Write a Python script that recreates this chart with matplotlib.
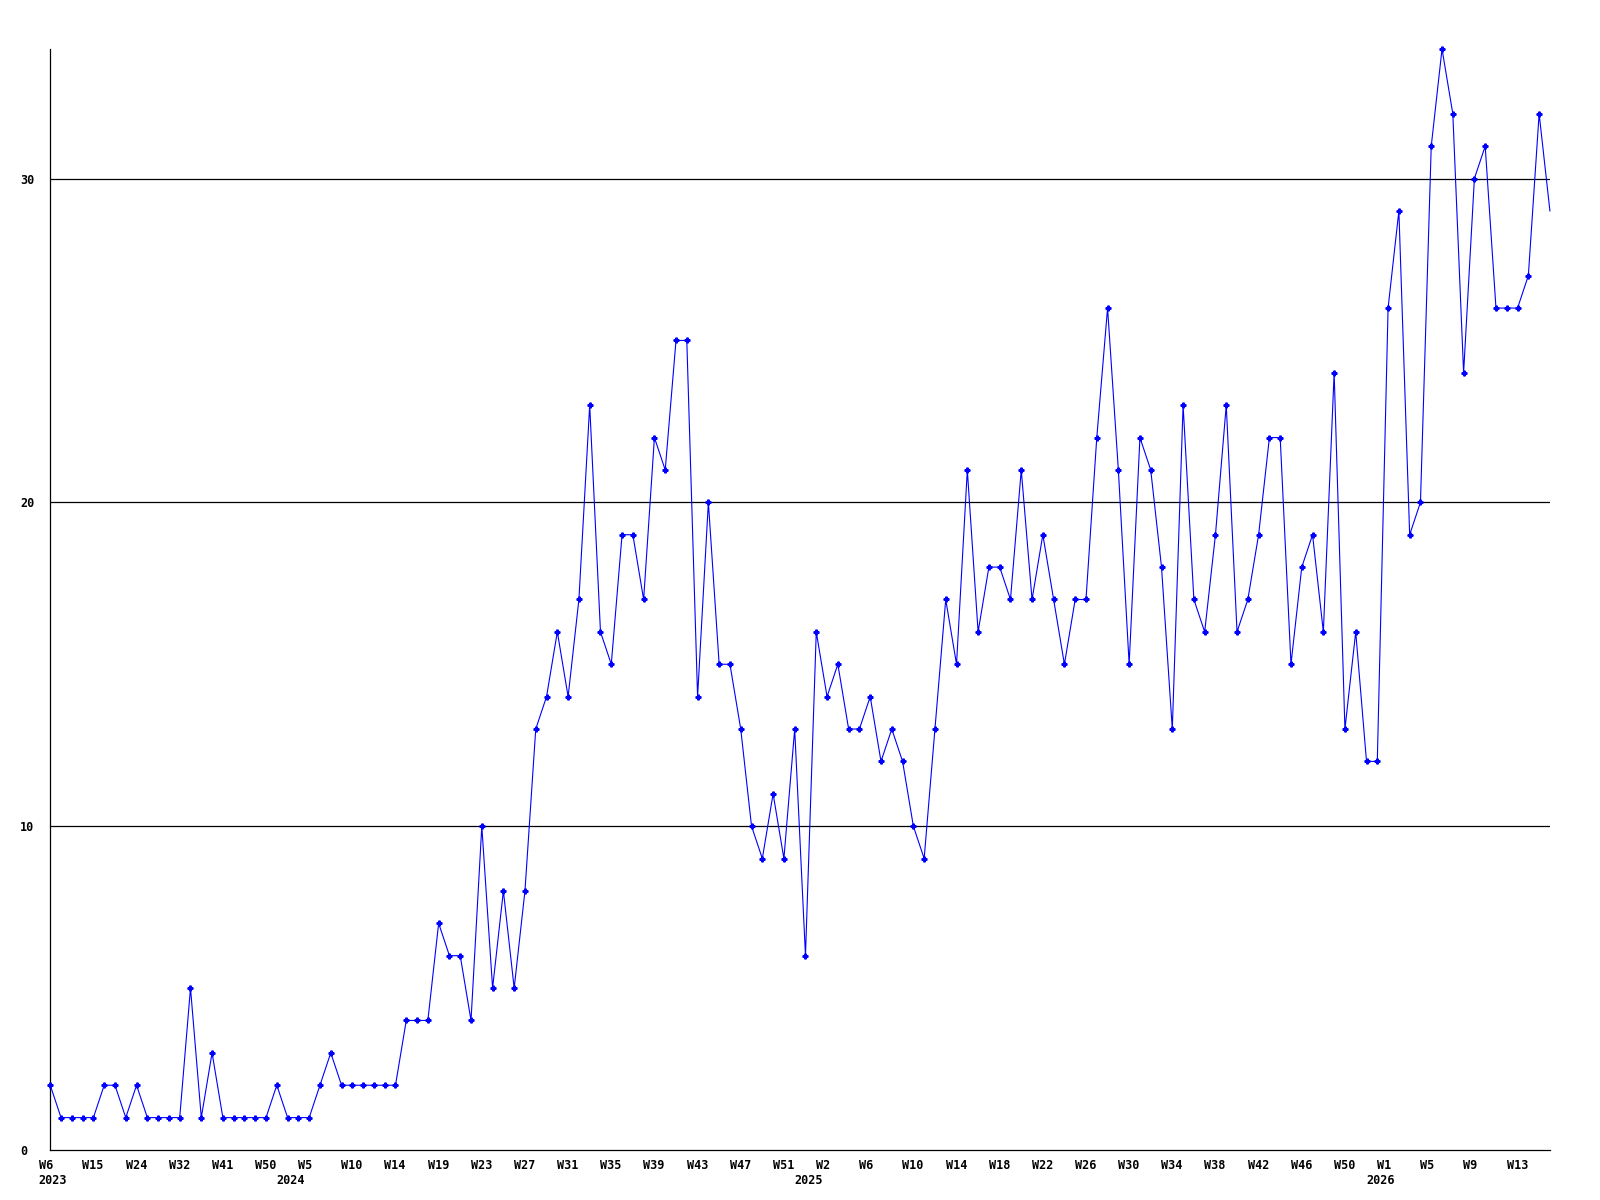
import numpy as np
import matplotlib
matplotlib.use("Agg")
from matplotlib import pyplot as plt
from matplotlib import transforms

# one value per sample
counts = [2, 1, 1, 1, 1, 2, 2, 1, 2, 1,
          1, 1, 1, 5, 1, 3, 1, 1, 1, 1,
          1, 2, 1, 1, 1, 2, 3, 2, 2, 2,
          2, 2, 2, 4, 4, 4, 7, 6, 6, 4,
          10, 5, 8, 5, 8, 13, 14, 16, 14, 17,
          23, 16, 15, 19, 19, 17, 22, 21, 25, 25,
          14, 20, 15, 15, 13, 10, 9, 11, 9, 13,
          6, 16, 14, 15, 13, 13, 14, 12, 13, 12,
          10, 9, 13, 17, 15, 21, 16, 18, 18, 17,
          21, 17, 19, 17, 15, 17, 17, 22, 26, 21,
          15, 22, 21, 18, 13, 23, 17, 16, 19, 23,
          16, 17, 19, 22, 22, 15, 18, 19, 16, 24,
          13, 16, 12, 12, 26, 29, 19, 20, 31, 34,
          32, 24, 30, 31, 26, 26, 26, 27, 32, 29]

# a week label every 4th sample
week_labels = ["W6", "W15", "W24", "W32", "W41", "W50", "W5", "W10", "W14",
               "W19", "W23", "W27", "W31", "W35", "W39", "W43", "W47", "W51",
               "W2", "W6", "W10", "W14", "W18", "W22", "W26", "W30", "W34",
               "W38", "W42", "W46", "W50", "W1", "W5", "W9", "W13"]
year_labels = ["2023", "2024", "2025", "2026"]
year_pos = [0.25, 22.3, 70.3, 123.3]   # sample index where each year starts

y_ticks = [0, 10, 20, 30]
label_font = dict(family="DejaVu Sans Mono", weight="bold", size=8.5)

fig = plt.figure(figsize=(16, 12), dpi=100)
ax = fig.add_axes([0.0314, 0.04167, 0.9373, 0.9175])

x = np.arange(len(counts))
ax.plot(x, counts, color="#0000ff", lw=0.8, marker="P", ms=3.5,
        markevery=slice(0, len(counts) - 1), clip_on=False, zorder=3)
ax.set_xlim(0, len(counts) - 1)
ax.set_ylim(0, 34)

for v in y_ticks[1:]:
    ax.axhline(v, color="black", lw=0.9, zorder=1)

for side in ["top", "right"]:
    ax.spines[side].set_visible(False)
for side in ["left", "bottom"]:
    ax.spines[side].set_color("black")
    ax.spines[side].set_linewidth(0.9)

ax.set_yticks(y_ticks)
ax.set_yticklabels([str(v) for v in y_ticks], ha="left", **label_font)
ax.tick_params(axis="y", length=0, pad=21.6)

ax.set_xticks(np.arange(len(week_labels)) * 4)
ax.set_xticklabels(week_labels, ha="left", **label_font)
ax.tick_params(axis="x", length=0, pad=6.5)
shift = transforms.ScaledTranslation(-11 / 100, 0, fig.dpi_scale_trans)
for lbl in ax.get_xticklabels():
    lbl.set_transform(lbl.get_transform() + shift)

for year, pos in zip(year_labels, year_pos):
    ax.annotate(year, xy=(pos, 0), xycoords=("data", "axes fraction"),
                xytext=(0, -24), textcoords="offset pixels",
                ha="center", va="top", annotation_clip=False, **label_font)

fig.savefig("out.png", dpi=100, facecolor="white")
